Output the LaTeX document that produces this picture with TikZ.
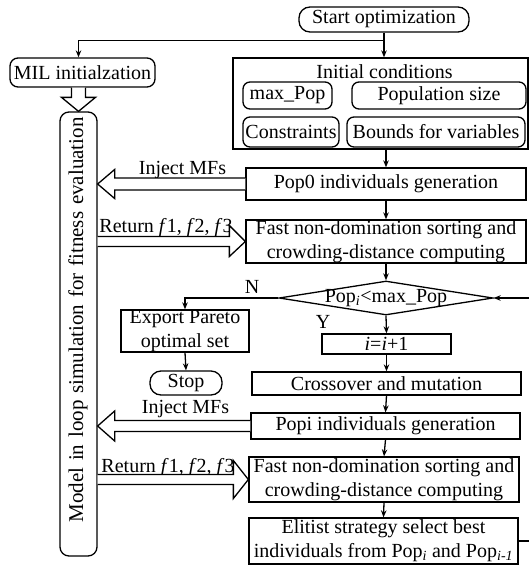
\documentclass[tikz,border=0pt]{standalone}
\usepackage{fontspec}
\setmainfont{Liberation Serif}
\usetikzlibrary{shapes.geometric,arrows.meta,calc}
\newcommand\fsz{\fontsize{20}{24}\selectfont}
\tikzset{
  every node/.style={font=\fsz, inner sep=0pt},
  box/.style={draw, line width=1.3pt, align=center},
  rbox/.style={box, rounded corners=8pt},
  pill/.style={box, rounded corners=11pt},
  conn/.style={line width=1.3pt},
  arr/.style={conn, -{Stealth[length=7pt,width=5.5pt]}},
  harrow/.style={line width=1.3pt, fill=white},
  lbl/.style={anchor=center}
}
\begin{document}
\begin{tikzpicture}[x=1pt,y=-1pt]
\useasboundingbox (0,0) rectangle (529,565);
% nodes
\node[pill, minimum width=170, minimum height=25] (start) at (384,19.5) {Start optimization};
\node[rbox, minimum width=145, minimum height=29] (mil) at (82.5,72.5) {MIL initialzation};
\node[box, minimum width=295, minimum height=91] (init) at (380.5,103.5) {};
\node (inittitle) at (384.5,72) {Initial conditions};
\node[rbox, rounded corners=7pt, minimum width=89, minimum height=27] (maxpop) at (287.5,95.5) {max\_Pop};
\node[rbox, rounded corners=7pt, minimum width=174, minimum height=27] (popsize) at (439,95.5) {Population size};
\node[rbox, rounded corners=7pt, minimum width=96, minimum height=30] (constr) at (291,132) {Constraints};
\node[rbox, rounded corners=7pt, minimum width=178, minimum height=30] (bounds) at (436,132) {Bounds for variables};
\node[box, minimum width=280, minimum height=32] (pop0) at (386,184) {Pop0 individuals generation};
\node[box, minimum width=280, minimum height=43] (fast1) at (386,241.5) {Fast non-domination sorting and\\crowding-distance computing};
\node[diamond, draw, line width=1.3pt, aspect=6.3, minimum width=214, minimum height=34] (dia) at (386,298) {\makebox[0pt]{Pop\textsubscript{\textit{i}}<max\_Pop}};
\node[box, minimum width=129, minimum height=20] (inc) at (386.5,344) {\textit{i}=\textit{i}+1};
\node[box, minimum width=128, minimum height=42] (exp) at (185,331) {Export Pareto\\optimal set};
\node[pill, minimum width=72, minimum height=24] (stop) at (186,383) {Stop};
\node[box, minimum width=269, minimum height=23] (cross) at (386.5,383.5) {Crossover and mutation};
\node[box, minimum width=269, minimum height=26] (popi) at (385.5,426) {Popi individuals generation};
\node[box, minimum width=270, minimum height=45] (fast2) at (384,479.5) {Fast non-domination sorting and\\crowding-distance computing};
\node[box, minimum width=269, minimum height=46] (elit) at (383.5,541) {Elitist strategy select best\\individuals from Pop\textsubscript{\textit{i}} and Pop\textsubscript{\textit{i-1}}};
\node[rbox, rounded corners=9pt, minimum width=37, minimum height=444] (sim) at (78.5,334) {};
\node[rotate=90, font=\fontsize{21}{24}\selectfont] (simtext) at (78,320) {\makebox[405pt][s]{Model in loop simulation for fitness evaluation}};
% labels
\node[lbl] (lN) at (252,287) {N};
\node[lbl] (lY) at (323,322) {Y};
\node[lbl] (inj1) at (182.5,170) {Inject MFs};
\node[lbl] (ret1) at (166,228) {Return \textit{f}1, \textit{f}2, \textit{f}3};
\node[lbl] (inj2) at (185.5,409) {Inject MFs};
\node[lbl] (ret2) at (168,468) {Return \textit{f}1, \textit{f}2, \textit{f}3};
% connectors
\coordinate (split) at ($(start.south)+(0,8)$);
\draw[conn] (start.south) -- (split);
\draw[arr] (split) -- (sim.north |- split) -- (sim.north |- mil.north);
\draw[arr] (split) -- (split |- init.north);
\draw[arr] (pop0.north |- init.south) -- (pop0.north);
\draw[arr] (pop0.south) -- (fast1.north);
\draw[arr] (fast1.south) -- (dia.north);
\draw[arr] (dia.south) -- (inc.north);
\draw[arr] (inc.south) -- (cross.north);
\draw[arr] (cross.south) -- (popi.north);
\draw[arr] (popi.south) -- (fast2.north);
\draw[arr] (fast2.south) -- (elit.north);
\coordinate (loopA) at ($(elit.east)+(11,0)$);
\draw[arr] (elit.east) -- (loopA) -- (loopA |- dia.east) -- (dia.east);
\draw[arr] (dia.west) -- (exp.north |- dia.west) -- (exp.north);
\draw[arr] (exp.south) -- (stop.north);
% hollow arrows
\draw[harrow] ($(sim.north |- mil.south)+(-7,0)$) -- ($(sim.north)+(-7,-14)$) -- ($(sim.north)+(-17,-14)$) -- (sim.north) -- ($(sim.north)+(17,-14)$) -- ($(sim.north)+(7,-14)$) -- ($(sim.north |- mil.south)+(7,0)$);
\draw[harrow] ($(pop0.west)+(0,-6)$) -- ($(sim.east |- pop0.west)+(17,-6)$) -- ($(sim.east |- pop0.west)+(17,-14.5)$) -- (sim.east |- pop0.west) -- ($(sim.east |- pop0.west)+(17,14.5)$) -- ($(sim.east |- pop0.west)+(17,6)$) -- ($(pop0.west)+(0,6)$);
\draw[harrow] ($(popi.west)+(0,-5.5)$) -- ($(sim.east |- popi.west)+(17,-5.5)$) -- ($(sim.east |- popi.west)+(17,-15)$) -- (sim.east |- popi.west) -- ($(sim.east |- popi.west)+(17,15)$) -- ($(sim.east |- popi.west)+(17,5.5)$) -- ($(popi.west)+(0,5.5)$);
\draw[harrow] ($(sim.east |- fast1.west)+(0,-5)$) -- ($(fast1.west)+(-16,-5)$) -- ($(fast1.west)+(-16,-16)$) -- (fast1.west) -- ($(fast1.west)+(-16,15)$) -- ($(fast1.west)+(-16,5)$) -- ($(sim.east |- fast1.west)+(0,5)$);
\draw[harrow] ($(sim.east |- fast2.west)+(0,-5)$) -- ($(fast2.west)+(-15,-5)$) -- ($(fast2.west)+(-15,-19)$) -- (fast2.west) -- ($(fast2.west)+(-15,19)$) -- ($(fast2.west)+(-15,5)$) -- ($(sim.east |- fast2.west)+(0,5)$);
\end{tikzpicture}
\end{document}
